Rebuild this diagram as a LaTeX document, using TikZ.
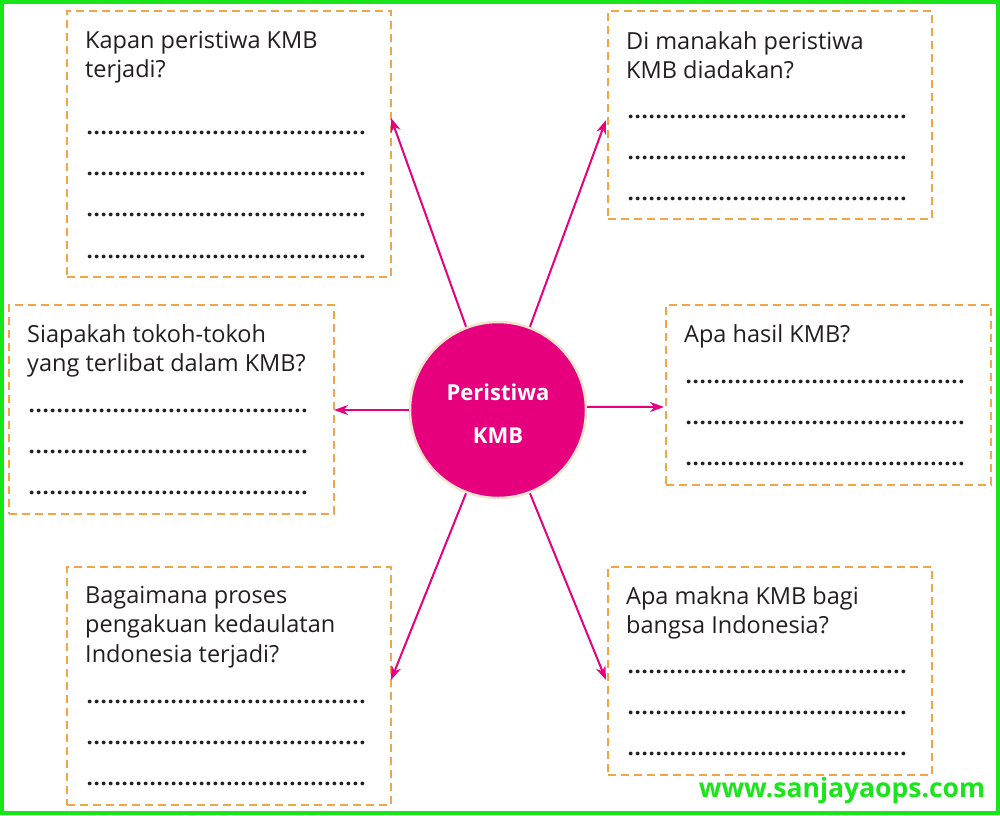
\documentclass[tikz,border=0pt]{standalone}
\usepackage{fontspec}
\setmainfont{Open Sans}
\usetikzlibrary{arrows.meta}
\definecolor{mag}{RGB}{230,0,126}
\definecolor{orng}{RGB}{240,165,70}
\definecolor{grn}{RGB}{25,230,25}
\definecolor{beige}{RGB}{240,228,205}
\definecolor{ink}{RGB}{35,31,32}
\newcommand{\dotrow}{\hbox to 280pt{\leaders\hbox to 7pt{\hss.\hss}\hfill}}
\tikzset{
  qbox/.style={draw=orng, line width=2pt, dash pattern=on 8pt off 5pt, anchor=north west, inner sep=0pt},
  qtext/.style={anchor=north west, inner sep=0pt, text=ink, font=\fontsize{23.5}{29.5}\selectfont, align=left},
  drow/.style={anchor=base west, inner sep=0pt, text=ink, font=\fontsize{22}{29}\selectfont\bfseries},
  arr/.style={draw=mag, line width=2pt, -{Stealth[length=14pt,width=10pt]}},
}
\begin{document}
\begin{tikzpicture}[x=1pt,y=-1pt]
\useasboundingbox (0,0) rectangle (1000,815);
\fill[white] (0,0) rectangle (1000,815);
\draw[grn, line width=4pt] (2,2) rectangle (998,813);

% boxes
\node[qbox, minimum width=324pt, minimum height=266pt] (tl) at (66,10) {};
\node[qbox, minimum width=324pt, minimum height=208pt] (tr) at (607,10) {};
\node[qbox, minimum width=325pt, minimum height=209pt] (ml) at (8,304) {};
\node[qbox, minimum width=325pt, minimum height=180pt] (mr) at (665,304) {};
\node[qbox, minimum width=324pt, minimum height=238pt] (bl) at (66,566) {};
\node[qbox, minimum width=324pt, minimum height=208pt] (br) at (607,566) {};

% questions
\node[qtext] (tlq) at (85,31) {Kapan peristiwa KMB\\terjadi?};
\node[qtext] (trq) at (626,31) {Di manakah peristiwa\\KMB diadakan?};
\node[qtext] (mlq) at (27,324) {Siapakah tokoh-tokoh\\yang terlibat dalam KMB?};
\node[qtext] (mrq) at (684,324) {Apa hasil KMB?};
\node[qtext] (blq) at (85,586) {Bagaimana proses\\pengakuan kedaulatan\\Indonesia terjadi?};
\node[qtext] (brq) at (626,586) {Apa makna KMB bagi\\bangsa Indonesia?};

% dotted answer lines
\foreach \yy [count=\i] in {134,175,216,258}{\node[drow] (tld\i) at (86,\yy) {\dotrow};}
\foreach \yy [count=\i] in {118,159,200}{\node[drow] (trd\i) at (627,\yy) {\dotrow};}
\foreach \yy [count=\i] in {412,453,494}{\node[drow] (mld\i) at (28,\yy) {\dotrow};}
\foreach \yy [count=\i] in {383,424,465}{\node[drow] (mrd\i) at (685,\yy) {\dotrow};}
\foreach \yy [count=\i] in {703,744,785}{\node[drow] (bld\i) at (86,\yy) {\dotrow};}
\foreach \yy [count=\i] in {673,714,755}{\node[drow] (brd\i) at (627,\yy) {\dotrow};}

% centre circle
\node[circle, fill=mag, draw=beige, line width=2.5pt, minimum size=176pt, inner sep=0pt,
      text=white, font=\fontsize{22}{43}\selectfont\bfseries, align=center] (c) at (498,410) {};
\node[text=white, font=\fontsize{22}{43}\selectfont\bfseries, align=center, inner sep=0pt] (ct) at (498,414) {Peristiwa\\KMB};

% arrow end points on box borders
\coordinate (etl) at (391,118);
\coordinate (etr) at (606,120);
\coordinate (eml) at (334,410);
\coordinate (emr) at (664,407);
\coordinate (ebl) at (391,680);
\coordinate (ebr) at (606,680);

\draw[arr] (c.111) -- (etl);
\draw[arr] (c.69) -- (etr);
\draw[arr] (c.180) -- (eml);
\draw[arr] (c.2) -- (emr);
\draw[arr] (c.249) -- (ebl);
\draw[arr] (c.291) -- (ebr);

% watermark
\node[text=grn, font=\fontsize{26.5}{26.5}\selectfont\bfseries, inner sep=0pt] (wm) at (842,791) {www.sanjayaops.com};
\end{tikzpicture}
\end{document}
